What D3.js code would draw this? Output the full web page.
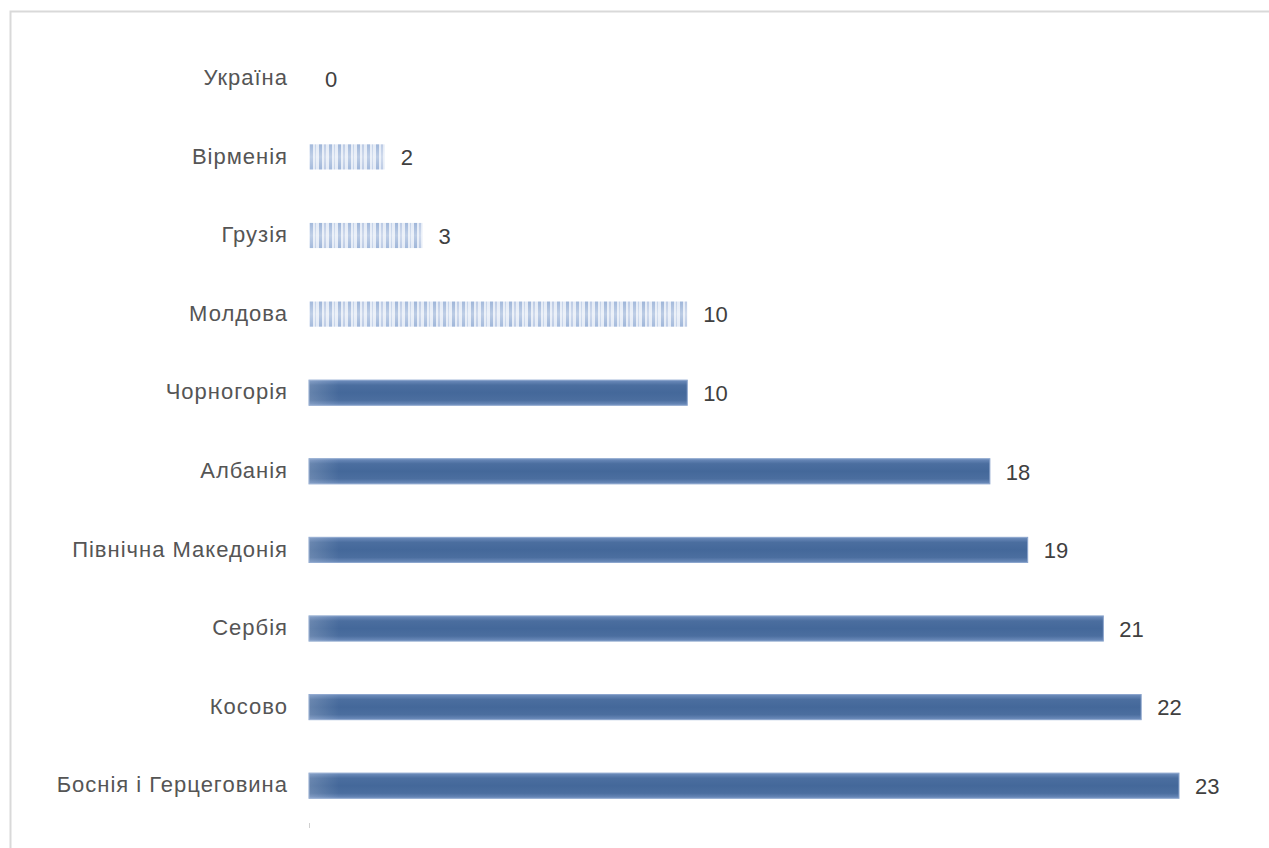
<!DOCTYPE html>
<html>
<head>
<meta charset="utf-8">
<script src="https://cdn.jsdelivr.net/npm/d3@7"></script>
<style>
  body { margin: 0; background: #fff; }
  svg { display: block; }
</style>
</head>
<body>
<div id="chart"></div>
<script>
const countries = ["Україна", "Вірменія", "Грузія", "Молдова", "Чорногорія", "Албанія",
  "Північна Македонія", "Сербія", "Косово", "Боснія і Герцеговина"];
const values = [0, 2, 3, 10, 10, 18, 19, 21, 22, 23];
// first four are drawn with the striped fill
const striped = [true, true, true, true, false, false, false, false, false, false];

const width = 1269, height = 848;

const svg = d3.select("#chart").append("svg")
  .attr("width", width)
  .attr("height", height);

const defs = svg.append("defs");

// solid bar gradient (soft edges)
const grad = defs.append("linearGradient")
  .attr("id", "solid").attr("x1", 0).attr("y1", 0).attr("x2", 0).attr("y2", 1);
[[0, "#6f8ebd"], [0.2, "#4b6e9f"], [0.5, "#44689a"], [0.8, "#4b6e9f"], [1, "#6f8ebd"]]
  .forEach(s => grad.append("stop").attr("offset", s[0]).attr("stop-color", s[1]));

const gradL = defs.append("linearGradient")
  .attr("id", "solidL").attr("x1", 0).attr("y1", 0).attr("x2", 1).attr("y2", 0);
gradL.append("stop").attr("offset", 0).attr("stop-color", "#ffffff").attr("stop-opacity", 0.18);
gradL.append("stop").attr("offset", 1).attr("stop-color", "#ffffff").attr("stop-opacity", 0);

// striped pattern
const pat = defs.append("pattern")
  .attr("id", "stripes").attr("patternUnits", "userSpaceOnUse")
  .attr("x", 309)
  .attr("width", 19).attr("height", 40);
pat.append("rect").attr("width", 19).attr("height", 40).attr("fill", "#e4ebf6");
[[1, 3, "#a4badc"], [6, 1, "#c2d1e8"], [10, 3, "#9fb6d9"], [15, 2, "#bccbe5"]]
  .forEach(s => pat.append("rect").attr("x", s[0]).attr("width", s[1]).attr("height", 40).attr("fill", s[2]));

const stripeShade = defs.append("linearGradient")
  .attr("id", "stripeShade").attr("x1", 0).attr("y1", 0).attr("x2", 0).attr("y2", 1);
[[0, 0.0], [0.5, 0.3], [1, 0.0]]
  .forEach(s => stripeShade.append("stop").attr("offset", s[0])
    .attr("stop-color", "#ffffff").attr("stop-opacity", s[1]));

// frame
svg.append("path")
  .attr("d", `M10.5,${height} V11.5 H${width}`)
  .attr("fill", "none")
  .attr("stroke", "#d9d9d9")
  .attr("stroke-width", 2);

const x = d3.scaleLinear().domain([0, 23]).range([309, 1179]);
const y = d3.scaleBand().domain(countries).range([39, 825]).paddingInner(0.68).paddingOuter(0.34);

const g = svg.append("g");

const bars = g.selectAll("g.bar")
  .data(countries)
  .enter().append("g")
  .attr("class", "bar");

bars.append("rect")
  .attr("x", x(0))
  .attr("y", d => y(d))
  .attr("width", (d, i) => x(values[i]) - x(0))
  .attr("height", y.bandwidth())
  .attr("fill", (d, i) => striped[i] ? "url(#stripes)" : "url(#solid)")
  .attr("stroke", (d, i) => striped[i] ? "none" : "#8aa4cc")
  .attr("stroke-width", 1);

bars.append("rect")
  .attr("x", x(0))
  .attr("y", d => y(d))
  .attr("width", (d, i) => striped[i] ? x(values[i]) - x(0) : Math.min(30, x(values[i]) - x(0)))
  .attr("height", y.bandwidth())
  .attr("fill", (d, i) => striped[i] ? "url(#stripeShade)" : "url(#solidL)");

// category labels
g.selectAll("text.cat")
  .data(countries)
  .enter().append("text")
  .attr("class", "cat")
  .attr("x", 288)
  .attr("y", d => y(d) + y.bandwidth() / 2)
  .attr("dy", "0.3em")
  .attr("text-anchor", "end")
  .attr("font-family", "Liberation Sans, Arial, sans-serif")
  .attr("font-size", 22)
  .attr("letter-spacing", 1)
  .attr("fill", "#555555")
  .text(d => d);

// value labels
g.selectAll("text.val")
  .data(countries)
  .enter().append("text")
  .attr("class", "val")
  .attr("x", (d, i) => x(values[i]) + 16)
  .attr("y", d => y(d) + y.bandwidth() / 2)
  .attr("dy", "0.38em")
  .attr("font-family", "Liberation Sans, Arial, sans-serif")
  .attr("font-size", 22)
  .attr("fill", "#404040")
  .text((d, i) => values[i]);

// remnant of the category axis
g.append("line")
  .attr("x1", x(0) + 0.5).attr("x2", x(0) + 0.5)
  .attr("y1", 823).attr("y2", 828)
  .attr("stroke", "#d0d0d0");
</script>
</body>
</html>
